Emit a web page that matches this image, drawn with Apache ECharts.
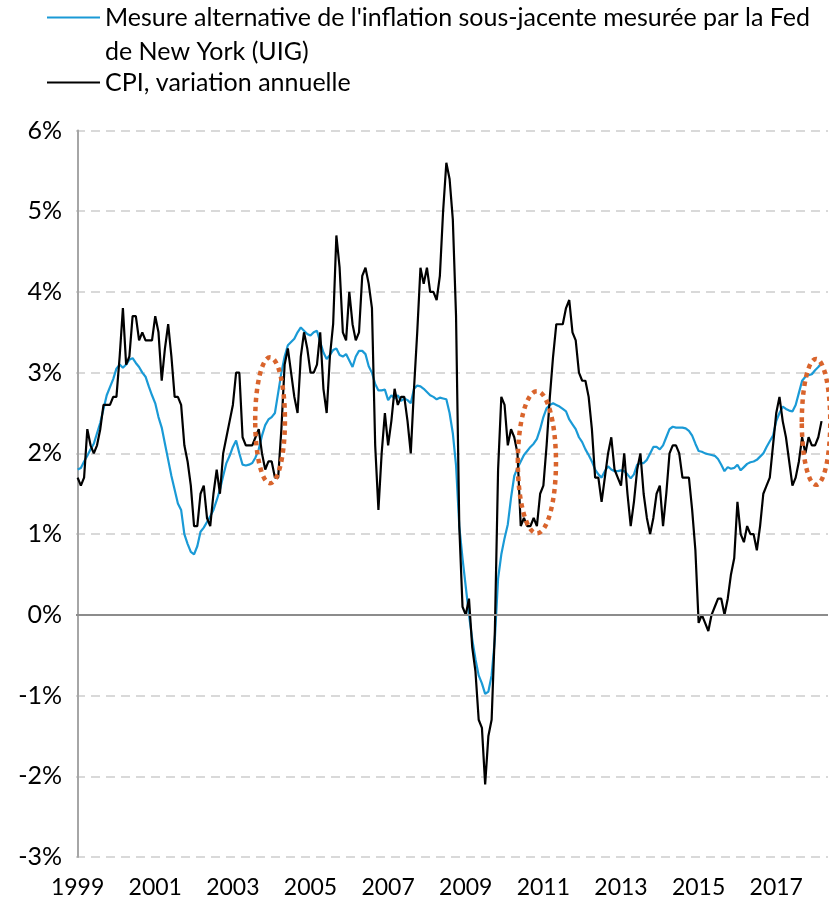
<!DOCTYPE html>
<html lang="fr" style="height: 100%">
<head>
    <meta charset="utf-8">
    <script src="https://cdn.jsdelivr.net/npm/echarts@6/dist/echarts.min.js"></script>
</head>
<body style="height: 100%; margin: 0; background: #fff">
    <div id="container" style="width: 829px; height: 906px"></div>
    <script type="text/javascript">
        // données mensuelles, janvier 1999 -> mars 2018
        const startYear = 1999;
        const yearTicks = [1999, 2001, 2003, 2005, 2007, 2009, 2011, 2013, 2015, 2017];

        // UIG (Fed de New York)
        const uig = [
            1.8, 1.82, 1.9, 1.97, 2.05, 2.12, 2.25, 2.38, 2.55, 2.72, 2.82, 2.92,
            3.05, 3.1, 3.06, 3.1, 3.16, 3.18, 3.12, 3.07, 3.0, 2.95, 2.83, 2.72,
            2.62, 2.45, 2.32, 2.12, 1.92, 1.72, 1.55, 1.38, 1.3, 1.0, 0.88, 0.78,
            0.75, 0.85, 1.03, 1.08, 1.15, 1.22, 1.3, 1.42, 1.55, 1.72, 1.88, 1.97,
            2.08, 2.16, 2.0, 1.86, 1.85, 1.86, 1.88, 1.95, 2.05, 2.22, 2.35, 2.42,
            2.45, 2.5, 2.75, 3.0, 3.2, 3.34, 3.38, 3.42, 3.5, 3.56, 3.52, 3.48,
            3.46, 3.5, 3.52, 3.38, 3.25, 3.17, 3.22, 3.28, 3.3, 3.22, 3.2, 3.23,
            3.15, 3.07, 3.2, 3.27, 3.27, 3.23, 3.08, 3.0, 2.86, 2.78, 2.78, 2.79,
            2.66, 2.72, 2.68, 2.72, 2.65, 2.68, 2.66, 2.62, 2.8, 2.84, 2.83, 2.8,
            2.76, 2.72, 2.7, 2.67, 2.69, 2.68, 2.67, 2.5, 2.25, 1.85, 1.1, 0.7,
            0.35, 0.0, -0.3, -0.55, -0.75, -0.85, -0.98, -0.95, -0.75, -0.3, 0.45, 0.75,
            0.95, 1.12, 1.45, 1.72, 1.82, 1.9, 1.98, 2.03, 2.08, 2.12, 2.18, 2.3,
            2.45, 2.56, 2.6, 2.62, 2.6, 2.58, 2.55, 2.52, 2.42, 2.36, 2.3, 2.2,
            2.14, 2.05, 1.98, 1.9, 1.8, 1.74, 1.7, 1.78, 1.84, 1.8, 1.78, 1.78,
            1.79, 1.78, 1.74, 1.69, 1.74, 1.86, 1.88, 1.88, 1.92, 2.0, 2.08, 2.08,
            2.05, 2.1, 2.2, 2.3, 2.33, 2.32, 2.32, 2.32, 2.31, 2.28, 2.22, 2.12,
            2.03, 2.02, 2.0, 1.99, 1.98, 1.97, 1.93, 1.86, 1.78, 1.83, 1.81, 1.82,
            1.86, 1.79, 1.83, 1.87, 1.89, 1.9, 1.92, 1.96, 2.0, 2.08, 2.15, 2.22,
            2.4, 2.5, 2.58, 2.55, 2.53, 2.52, 2.6, 2.75, 2.9, 2.95, 2.97, 2.98,
            3.03, 3.07, 3.12
        ];

        // CPI, glissement annuel
        const cpi = [
            1.7, 1.6, 1.7, 2.3, 2.1, 2.0, 2.1, 2.3, 2.6, 2.6, 2.6, 2.7,
            2.7, 3.2, 3.8, 3.1, 3.2, 3.7, 3.7, 3.4, 3.5, 3.4, 3.4, 3.4,
            3.7, 3.5, 2.9, 3.3, 3.6, 3.2, 2.7, 2.7, 2.6, 2.1, 1.9, 1.6,
            1.1, 1.1, 1.5, 1.6, 1.2, 1.1, 1.5, 1.8, 1.5, 2.0, 2.2, 2.4,
            2.6, 3.0, 3.0, 2.2, 2.1, 2.1, 2.1, 2.2, 2.3, 2.0, 1.8, 1.9,
            1.9, 1.7, 1.7, 2.3, 3.1, 3.3, 3.0, 2.7, 2.5, 3.2, 3.5, 3.3,
            3.0, 3.0, 3.1, 3.5, 2.8, 2.5, 3.2, 3.6, 4.7, 4.3, 3.5, 3.4,
            4.0, 3.6, 3.4, 3.5, 4.2, 4.3, 4.1, 3.8, 2.1, 1.3, 2.0, 2.5,
            2.1, 2.4, 2.8, 2.6, 2.7, 2.7, 2.4, 2.0, 2.8, 3.5, 4.3, 4.1,
            4.3, 4.0, 4.0, 3.9, 4.2, 5.0, 5.6, 5.4, 4.9, 3.7, 1.1, 0.1,
            0.0, 0.2, -0.4, -0.7, -1.3, -1.4, -2.1, -1.5, -1.3, -0.2, 1.8, 2.7,
            2.6, 2.1, 2.3, 2.2, 2.0, 1.1, 1.2, 1.1, 1.1, 1.2, 1.1, 1.5,
            1.6, 2.1, 2.7, 3.2, 3.6, 3.6, 3.6, 3.8, 3.9, 3.5, 3.4, 3.0,
            2.9, 2.9, 2.7, 2.3, 1.7, 1.7, 1.4, 1.7, 2.0, 2.2, 1.8, 1.7,
            1.6, 2.0, 1.5, 1.1, 1.4, 1.8, 2.0, 1.5, 1.2, 1.0, 1.2, 1.5,
            1.6, 1.1, 1.5, 2.0, 2.1, 2.1, 2.0, 1.7, 1.7, 1.7, 1.3, 0.8,
            -0.1, 0.0, -0.1, -0.2, 0.0, 0.1, 0.2, 0.2, 0.0, 0.2, 0.5, 0.7,
            1.4, 1.0, 0.9, 1.1, 1.0, 1.0, 0.8, 1.1, 1.5, 1.6, 1.7, 2.1,
            2.5, 2.7, 2.4, 2.2, 1.9, 1.6, 1.7, 1.9, 2.2, 2.0, 2.2, 2.1,
            2.1, 2.2, 2.4
        ];

        const nameUig = "Mesure alternative de l'inflation sous-jacente mesurée par la Fed de New York (UIG)";
        const nameCpi = "CPI, variation annuelle";

        // ellipses en pointillés : [mois, valeur, demi-largeur en mois, demi-hauteur en %]
        const highlights = [
            [59.5, 2.41, 4.6, 0.78],
            [142, 1.89, 5.9, 0.88],
            [228.3, 2.39, 4.4, 0.78]
        ];

        const font = 'Lato';
        const blue = '#1a9ad6';
        const orange = '#d9642c';
        const legendText = { fontFamily: font, fontSize: 25, color: '#000', lineHeight: 34 };

        let dom = document.getElementById('container');
        let myChart = echarts.init(dom, null, { renderer: 'canvas' });

        const toPairs = arr => arr.map((v, i) => [i, v]);
        const tickValues = yearTicks.map(y => (y - startYear) * 12);

        let option = {
            animation: false,
            backgroundColor: '#fff',
            grid: { left: 76, right: 1, top: 130.5, bottom: 49 },
            legend: [
                {
                    // ligne vide au-dessus pour aligner la 1re ligne sur le trait
                    data: [nameUig],
                    left: 47,
                    top: -29,
                    padding: 0,
                    icon: 'rect',
                    itemWidth: 53,
                    itemHeight: 2,
                    selectedMode: false,
                    formatter: () => "{t| }\n{t|Mesure alternative de l'inflation sous-jacente mesurée par la Fed}\n{t|de New York (UIG)}",
                    textStyle: { rich: { t: legendText } }
                },
                {
                    data: [nameCpi],
                    left: 47,
                    top: 70,
                    padding: 0,
                    icon: 'rect',
                    itemWidth: 53,
                    itemHeight: 2,
                    selectedMode: false,
                    formatter: name => '{t|' + name + '}',
                    textStyle: { rich: { t: legendText } }
                }
            ],
            xAxis: {
                type: 'value',
                min: -0.5,
                max: 232,
                axisLine: { show: false },
                axisTick: { show: false },
                splitLine: { show: false },
                axisLabel: {
                    customValues: tickValues,
                    formatter: v => String(startYear + Math.round(v / 12)),
                    fontFamily: font,
                    fontSize: 23,
                    color: '#000',
                    margin: 19
                }
            },
            yAxis: {
                type: 'value',
                min: -3,
                max: 6,
                interval: 1,
                axisLine: { show: true, lineStyle: { color: '#a6a6a6', width: 2 } },
                axisTick: { show: false },
                splitLine: { lineStyle: { color: '#d9d9d9', width: 2, type: [9, 6] } },
                axisLabel: {
                    formatter: v => v + '%',
                    fontFamily: font,
                    fontSize: 25,
                    color: '#000',
                    margin: 14
                }
            },
            series: [
                {
                    name: nameUig,
                    type: 'line',
                    data: toPairs(uig),
                    showSymbol: false,
                    color: blue,
                    lineStyle: { width: 2.2, color: blue },
                    markLine: {
                        silent: true,
                        symbol: 'none',
                        label: { show: false },
                        lineStyle: { color: '#8c8c8c', width: 2, type: 'solid' },
                        data: [{ yAxis: 0 }]
                    }
                },
                {
                    name: nameCpi,
                    type: 'line',
                    data: toPairs(cpi),
                    showSymbol: false,
                    color: '#000',
                    lineStyle: { width: 2.2, color: '#000' }
                }
            ]
        };

        myChart.setOption(option);

        // ellipses placées avec les échelles du graphique
        const ellipses = highlights.map(h => {
            const c = myChart.convertToPixel({ gridIndex: 0 }, [h[0], h[1]]);
            const e = myChart.convertToPixel({ gridIndex: 0 }, [h[0] + h[2], h[1] + h[3]]);
            return {
                type: 'ellipse',
                silent: true,
                z: 100,
                shape: { cx: c[0], cy: c[1], rx: Math.abs(e[0] - c[0]), ry: Math.abs(c[1] - e[1]) },
                style: { fill: null, stroke: orange, lineWidth: 4.5, lineDash: [4.5, 4.5] }
            };
        });
        myChart.setOption({ graphic: ellipses });

        window.addEventListener('resize', myChart.resize);
    </script>
</body>
</html>
